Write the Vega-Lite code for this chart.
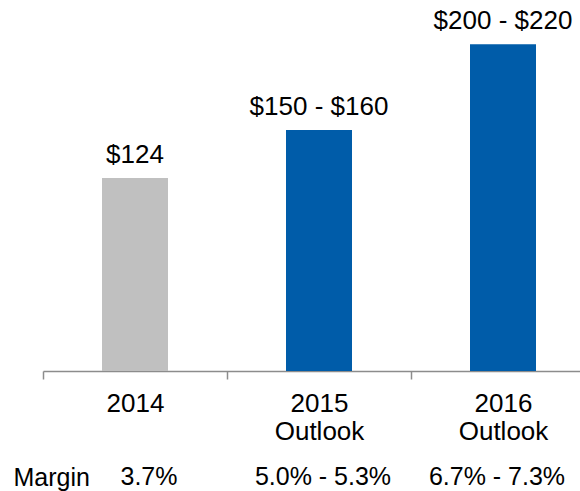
{
  "$schema": "https://vega.github.io/schema/vega-lite/v6.json",
  "autosize": "none",
  "width": 537,
  "height": 371,
  "padding": {"left": 43, "top": 0, "right": 0, "bottom": 120},
  "background": "white",
  "config": {
    "view": {"stroke": null},
    "font": "Liberation Sans",
    "text": {"font": "Liberation Sans", "fontSize": 26, "color": "#000000"}
  },
  "data": {
    "values": [
      {"cat": "2014", "value": 124, "label": "$124", "margin": "3.7%", "kind": "actual"},
      {"cat": "2015 Outlook", "value": 155, "label": "$150 - $160", "margin": "5.0% - 5.3%", "kind": "outlook"},
      {"cat": "2016 Outlook", "value": 210, "label": "$200 - $220", "margin": "6.7% - 7.3%", "kind": "outlook"}
    ]
  },
  "layer": [
    {
      "layer": [
        {
          "mark": {"type": "bar", "size": 66},
          "encoding": {
            "x": {
              "field": "cat", "type": "nominal", "sort": null,
              "scale": {"range": [0, 552], "paddingInner": 0, "paddingOuter": 0},
              "axis": {
                "orient": "bottom", "title": null, "labelAngle": 0,
                "domainColor": "#8c8c8c", "domainWidth": 1.5,
                "tickColor": "#8c8c8c", "tickWidth": 1.5, "tickSize": 8, "tickBand": "extent",
                "labelFont": "Liberation Sans", "labelFontSize": 26, "labelColor": "#000000",
                "labelPadding": 11, "labelLineHeight": 28,
                "labelExpr": "isValid(datum.value) ? split(datum.value, ' ') : ''"
              }
            },
            "y": {
              "field": "value", "type": "quantitative",
              "scale": {"domain": [0, 238.5], "nice": false, "zero": true},
              "axis": null
            },
            "color": {
              "field": "kind", "type": "nominal",
              "scale": {"domain": ["actual", "outlook"], "range": ["#c0c0c0", "#005ca9"]},
              "legend": null
            }
          }
        },
        {
          "mark": {"type": "text", "baseline": "alphabetic", "dy": -15},
          "encoding": {
            "x": {"field": "cat", "type": "nominal", "sort": null},
            "y": {"field": "value", "type": "quantitative"},
            "text": {"field": "label"}
          }
        }
      ]
    },
    {
      "mark": {"type": "text", "baseline": "alphabetic", "dy": 114, "fontSize": 25},
      "encoding": {
        "x": {
          "field": "margin", "type": "nominal", "sort": null,
          "scale": {"range": [19, 541], "paddingInner": 0, "paddingOuter": 0},
          "axis": {
            "orient": "bottom", "domain": false, "ticks": false, "labels": false,
            "title": "Margin", "titleFont": "Liberation Sans", "titleFontSize": 25,
            "titleFontWeight": "normal", "titleColor": "#000000",
            "titleAnchor": "start", "titleAlign": "left", "titleBaseline": "alphabetic",
            "titleX": -30, "titleY": 114
          }
        },
        "y": {"datum": 0, "type": "quantitative"},
        "text": {"field": "margin"}
      }
    }
  ],
  "resolve": {"scale": {"x": "independent"}, "axis": {"x": "independent"}}
}
